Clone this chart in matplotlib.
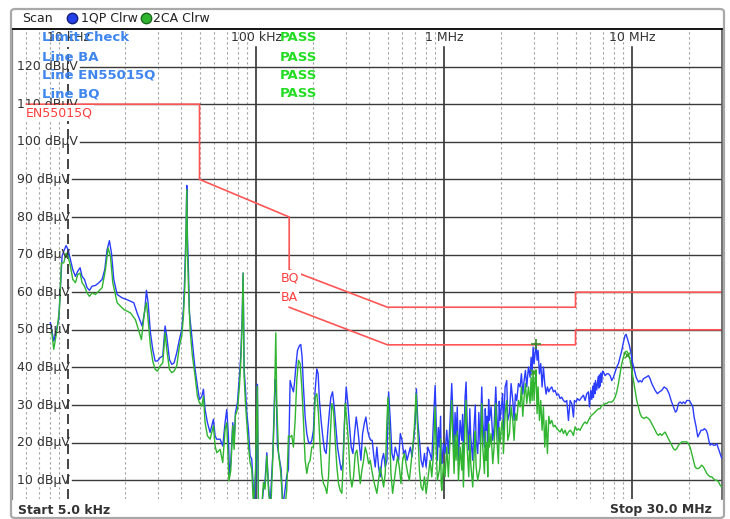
import numpy as np
import matplotlib
matplotlib.use("Agg")
import matplotlib.pyplot as plt
import matplotlib.transforms as mtransforms
from matplotlib.patches import FancyBboxPatch
from matplotlib.lines import Line2D
from matplotlib.ticker import NullLocator

# ---- trace 1 (QP, blue): frequency in kHz, level in dBuV ----
blue_freq = [
    8.05, 8.39, 8.92, 9.29, 9.48, 9.76, 10.0, 10.29, 10.59, 10.94, 11.26, 11.58, 11.87, 12.22,
    12.62, 12.99, 13.42, 13.98, 14.56, 15.17, 15.67, 16.12, 16.59, 17.01, 17.5, 18.23, 19.38,
    20.6, 22.36, 23.28, 24.76, 25.57, 26.1, 26.64, 27.41,
    28.2, 29.03, 29.87, 30.86, 31.88, 32.81, 33.48, 34.59, 35.6, 36.63, 37.84, 39.09, 40.22,
    41.06, 41.56, 42.07, 42.43, 42.78, 43.13, 43.66, 44.2, 44.93, 46.03, 47.37, 48.74, 49.95,
    51.4, 52.47, 53.55, 55.1, 56.93, 59.3, 60.52, 61.77, 64.37, 66.47, 68.4, 69.82, 71.25,
    72.13, 73.32, 75.15, 76.38, 77.65, 79.57, 81.54, 82.87, 84.25, 85.3, 86.35, 87.77, 89.2,
    91.05, 92.91, 94.84, 96.8, 97.97, 100.8, 101.6, 102.9, 107.2, 109.4, 111.6, 114.0, 116.3,
    118.7, 122.6, 126.2, 127.8, 129.9, 133.1, 135.9, 138.7, 142.7, 145.6, 148.6,
    151.7, 154.8, 158.0, 159.9, 163.3, 166.0, 170.1, 172.9, 175.7, 178.6, 182.3, 186.1, 189.9,
    193.8, 197.8, 201.9, 206.1, 210.4, 213.8, 217.2, 221.7, 226.4, 231.1, 235.9, 240.8, 245.8,
    249.9, 255.0, 260.3, 265.7, 271.1, 277.9, 283.6, 289.4, 295.4, 301.5, 307.7, 314.1, 320.6,
    327.3, 334.1, 340.9, 348.0, 355.2, 361.1, 368.5, 376.1, 383.8, 391.7, 399.7, 407.9, 414.6,
    421.4, 430.1, 439.0, 448.1, 457.4, 466.9, 476.6, 486.4, 496.5, 506.8, 517.3, 528.0, 538.9,
    550.1, 561.5, 573.1, 585.0, 597.1, 609.5, 622.1, 635.0, 648.2, 661.6, 675.3, 689.3, 703.6,
    712.3, 724.1, 739.1, 754.5, 770.1, 786.1, 802.4, 819.1,
    842, 860, 878, 896, 907, 921, 944, 972, 992, 1012, 1033, 1054, 1076, 1098, 1112, 1130,
    1158, 1192, 1217, 1241, 1267, 1293, 1309, 1325, 1353, 1386, 1420, 1450, 1480, 1510, 1554,
    1586, 1606, 1639, 1673, 1707, 1742, 1778, 1815, 1845, 1883, 1906, 1945, 1985, 2026, 2068,
    2111, 2154, 2181, 2226, 2272, 2319, 2357, 2396, 2435, 2485, 2536, 2578, 2621, 2664, 2708,
    2752, 2809, 2867, 2902, 2938, 2975, 3011, 3048, 3085, 3123, 3162, 3214, 3267, 3321, 3375,
    3431, 3488, 3545, 3604, 3663, 3738, 3815, 3894, 3974, 4056, 4140, 4225, 4312, 4402, 4492,
    4585,
    4680, 4776, 4875, 4935, 5037, 5119, 5246, 5399, 5510, 5624, 5740, 5858, 5931, 6029, 6102,
    6178, 6228, 6280, 6357, 6382, 6487, 6594, 6650, 6703, 6758, 6814, 6897, 6960, 7040, 7186,
    7333, 7485, 7640, 7796, 7957, 8122, 8288, 8460, 8635, 8812, 8993, 9177, 9293, 9446, 9679,
    9880, 10083, 10290, 10501, 10808, 11030, 11258, 11491, 11871, 12216, 12466, 12724, 12988,
    13254, 13637, 13978, 14382, 14800, 15291, 15734, 16123, 16589, 17003, 17283, 17637, 18002,
    18376, 18752, 19140, 19537, 20182, 20599, 21026, 21372, 21901, 22354, 22813, 23286, 23762,
    24254, 24762, 25170, 25586, 25998, 26531, 27080, 27641, 28213, 28790, 29387, 29989,
]
blue_level = [
    51.9, 47.0, 52.7, 69.6, 70.9, 72.4, 71.3, 68.7, 66.0, 64.2, 65.6, 66.5, 64.2, 63.4,
    61.2, 60.5, 61.6, 61.8, 62.5, 63.4, 66.0, 71.3, 73.7, 70.4, 63.4, 59.4, 58.5,
    58.0, 57.2, 54.5, 51.0, 55.0, 60.5, 57.2, 49.2,
    44.8, 41.7, 41.7, 42.6, 43.0, 51.0, 48.3, 42.1, 40.8, 41.2, 43.9, 47.4, 50.0,
    55.4, 61.6, 70.4, 76.6, 88.4, 74.9, 66.0, 54.5, 51.0, 45.7, 39.5, 35.0, 31.5,
    32.3, 34.2, 28.8, 25.3, 22.7, 26.2, 21.8, 20.9, 20.9, 19.1, 25.3, 28.8, 21.8,
    11.2, 14.7, 25.3, 20.0, 28.0, 30.6, 37.7, 43.0, 52.7, 65.1, 39.5, 34.2, 28.0,
    23.5, 16.5, 15.6, 7.1, 3.0, 17.3, 35.5, 3.0, 3.0, 7.6, 9.8, 17.3, 8.8,
    3.0, 16.5, 36.8, 34.2, 19.1, 15.6, 12.9, 3.0, 7.6, 11.2, 12.9,
    36.5, 34.8, 33.5, 35.7, 41.0, 44.5, 45.8, 46.1, 42.7, 34.8, 26.8, 22.4, 20.2,
    19.7, 20.6, 23.3, 33.9, 39.6, 38.3, 31.2, 25.9, 21.5, 18.0, 17.1, 23.3, 28.6,
    32.1, 33.5, 29.5, 24.2, 18.8, 15.3, 12.7, 14.4, 25.9, 34.8, 30.4, 24.2, 18.8,
    17.1, 22.4, 26.8, 23.3, 18.8, 15.3, 22.4, 25.0, 26.8, 23.3, 21.5, 20.6, 20.6,
    17.1, 13.5, 18.8, 13.5, 10.9, 15.3, 17.1, 13.5, 15.3, 33.5, 25.9, 17.1, 15.3,
    18.8, 17.1, 15.3, 22.4, 20.6, 17.1, 18.0, 15.3, 17.1, 18.8, 16.2, 20.6, 25.9,
    34.3, 25.9, 20.6, 15.3, 13.5, 17.1, 13.5, 18.8,
    17.1, 15.3, 25.9, 35.2, 25.9, 15.3, 18.8, 14.4, 19.7, 17.1, 23.3, 17.1, 25.9, 35.7, 28.6, 17.1,
    21.5, 15.3, 25.9, 20.6, 17.1, 32.1, 36.1, 25.9, 18.0, 21.5, 15.3, 25.9, 20.6, 17.1, 19.7,
    34.8, 25.9, 18.8, 23.3, 18.0, 25.9, 29.5, 20.6, 24.2, 34.8, 27.7, 20.6, 25.9, 30.4, 23.3,
    34.8, 36.5, 25.9, 27.7, 35.7, 31.2, 25.9, 32.9, 31.2, 35.7, 34.8, 38.3, 32.9, 36.5, 39.2,
    34.8, 40.1, 37.4, 42.7, 38.3, 45.4, 41.0, 43.6, 46.3, 41.9, 44.5, 38.3, 41.0, 34.8, 40.1,
    35.7, 32.9, 34.8, 33.5, 34.3, 34.8, 33.5, 33.9, 32.6, 32.9, 31.7, 32.1, 31.2, 30.8, 31.2,
    25.9,
    31.2, 30.4, 26.8, 31.2, 30.8, 31.7, 31.2, 32.1, 32.6, 31.2, 33.0, 33.5, 29.5, 33.9, 31.5,
    35.0, 32.0, 35.8, 33.0, 36.5, 34.0, 37.5, 34.5, 38.0, 35.0, 38.5, 36.0, 39.0, 38.8, 37.8,
    38.3, 38.3, 37.8, 36.5, 37.4, 38.8, 40.1, 41.0, 42.7, 44.5, 46.7, 48.5, 48.8, 47.6, 45.8,
    43.6, 41.0, 39.2, 37.4, 36.1, 36.5, 36.1, 37.0, 37.4, 37.8, 37.0, 35.7, 34.8,
    33.9, 33.0, 33.5, 33.9, 34.8, 34.3, 33.0, 31.2, 29.5, 28.1, 28.5, 30.4, 30.8,
    30.4, 30.8, 30.4, 31.2, 31.2, 30.4, 29.5, 26.8, 24.2, 21.5, 22.4, 23.3, 23.3,
    23.7, 23.3, 22.4, 20.6, 19.3, 19.7, 19.3, 19.3, 19.7, 18.4, 17.1, 15.8,
]
# small harmonics in the dense 1-2 MHz band
blue_extra_freq = [932, 958, 965, 1144, 1175, 1254, 1370, 1435, 1465, 1530, 1656, 1690, 1725,
                   1965, 2047]
blue_extra_level = [24.0, 27.0, 16.0, 28.0, 29.5, 27.5, 29.0, 22.0, 30.0, 28.0, 29.0, 27.0,
                    31.5, 31.0, 33.0]

# ---- trace 2 (CA, green) ----
green_freq = [
    8.15, 8.39, 8.74, 8.99, 9.21, 9.48, 9.76, 10.0, 10.29, 10.59, 10.94, 11.26, 11.58, 11.87,
    12.22, 12.62, 12.99, 13.42, 13.98, 14.56, 15.17, 15.8, 16.32, 16.8, 17.29, 18.23, 19.78,
    21.46, 22.81, 24.55, 25.57, 26.1, 26.64, 27.41,
    28.2, 29.03, 29.87, 30.86, 31.88, 32.81, 33.48, 34.59, 35.6, 36.63, 37.84, 39.09, 40.22,
    41.06, 41.7, 42.25, 42.78, 43.13, 43.84, 44.56, 45.84, 47.37, 48.74, 49.95, 51.4, 52.47,
    53.55, 55.1, 56.93, 59.3, 60.52, 61.77, 64.37, 66.47, 68.4, 69.82, 71.7, 73.32, 75.15,
    76.38, 77.65, 79.57, 81.54, 82.87, 84.25, 85.3, 86.35, 87.77, 89.2, 91.05, 92.91, 94.84,
    96.8, 99.3, 101.6, 102.9, 107.2, 109.4, 111.6, 114.0, 116.8, 119.9, 122.6, 124.7, 127.3,
    128.8, 131.5, 135.3, 138.7, 142.7, 145.6, 148.6,
    151.7, 154.8, 158.0, 161.3, 164.6, 168.0, 171.5, 175.0, 178.6, 182.3, 186.1, 189.9, 193.8,
    197.8, 201.9, 206.1, 210.4, 214.7, 219.2, 223.7, 228.3, 233.0, 237.9, 242.8, 247.8, 252.9,
    258.2, 263.5, 268.9, 274.5, 280.1, 285.9, 291.8, 297.8, 304.0, 310.3, 316.7, 323.3, 330.0,
    336.8, 343.8, 350.9, 358.1, 365.5, 373.0, 380.7, 388.5, 396.5, 404.6, 412.9, 421.4, 430.1,
    439.0, 448.1, 457.4, 466.9, 476.6, 486.4, 496.5, 502.7, 510.9, 521.5, 532.3, 543.3, 554.6,
    566.1, 577.8, 589.8, 602.0, 614.5, 627.2, 640.2, 653.5, 667.0, 680.8, 694.9, 709.4, 724.1,
    739.1, 754.5, 770.1, 786.1, 802.4, 819.1,
    842, 860, 878, 896, 907, 921, 944, 972, 992, 1012, 1033, 1054, 1076, 1098, 1112, 1130,
    1158, 1192, 1217, 1241, 1267, 1293, 1309, 1325, 1353, 1386, 1420, 1450, 1480, 1510, 1554,
    1586, 1606, 1639, 1673, 1707, 1742, 1778, 1815, 1845, 1883, 1906, 1945, 1985, 2026, 2068,
    2111, 2154, 2181, 2226, 2272, 2319, 2357, 2396, 2435, 2485, 2536, 2578, 2621, 2664, 2708,
    2752, 2809, 2867, 2902, 2938, 2975, 3011, 3048, 3085, 3123, 3162, 3214, 3267, 3321, 3375,
    3431, 3488, 3545, 3604, 3663, 3738, 3815, 3894, 3974, 4056, 4140, 4225, 4312, 4402, 4492,
    4585,
    4680, 4776, 4875, 4975, 5078, 5183, 5290, 5399, 5510, 5624, 5740, 5858, 5979, 6102, 6228,
    6357, 6487, 6621, 6758, 6897, 7040, 7186, 7333, 7485, 7640, 7796, 7957, 8122, 8288, 8460,
    8635, 8812, 8993, 9177, 9367, 9562, 9758, 9960, 10166, 10374, 10589, 10808, 11030, 11258,
    11585, 11871, 12216, 12466, 12724, 12988, 13254, 13528, 13806, 14091, 14382, 14678, 14982,
    15291, 15605, 15927, 16256, 16589, 16933, 17283, 17637, 18002, 18376, 18752, 19140, 19537,
    19937, 20350, 20767, 21196, 21635, 22078, 22535, 23001, 23472, 23958, 24454, 24955, 25471,
    25998, 26531, 27080, 27641, 28213, 28790, 29387, 29989,
]
green_level = [
    50.0, 44.8, 50.1, 55.4, 67.8, 67.8, 70.4, 69.6, 66.9, 63.4, 62.5, 64.7, 65.1, 62.5,
    61.6, 59.8, 58.9, 59.8, 59.4, 60.3, 61.2, 66.0, 71.8, 69.6, 62.5, 57.2, 55.4,
    54.5, 52.7, 47.4, 55.4, 57.2, 52.7, 45.7,
    41.7, 39.5, 39.0, 40.4, 41.2, 49.2, 44.8, 39.5, 38.6, 39.0, 40.4, 45.7, 48.3,
    53.6, 60.7, 71.3, 87.3, 71.3, 58.9, 50.0, 43.0, 37.7, 32.3, 30.6, 29.7, 32.3,
    25.3, 21.8, 20.9, 24.5, 19.1, 17.3, 18.2, 14.7, 23.5, 25.3, 9.8, 12.5, 24.5,
    18.2, 27.2, 28.8, 35.0, 41.2, 51.0, 65.1, 37.7, 30.6, 25.3, 19.1, 14.7, 12.9,
    3.0, 12.9, 35.0, 3.0, 3.0, 9.4, 7.6, 16.5, 6.2, 3.0, 15.6, 26.2, 49.2,
    30.6, 17.3, 12.0, 3.0, 3.0, 7.6, 21.8,
    21.5, 21.9, 18.8, 25.9, 36.5, 41.9, 41.0, 34.8, 25.9, 15.3, 11.8, 14.4, 15.3,
    18.8, 18.8, 32.1, 33.0, 27.7, 18.8, 11.8, 9.1, 8.2, 6.5, 10.9, 21.5, 30.4,
    28.6, 20.6, 13.5, 9.1, 7.3, 6.5, 17.1, 30.4, 25.9, 19.7, 10.9, 8.2, 10.9,
    17.1, 18.0, 13.5, 9.1, 12.7, 15.3, 18.8, 17.1, 14.4, 15.3, 12.7, 10.0, 8.2,
    6.5, 10.0, 13.5, 10.9, 8.2, 11.8, 25.9, 32.1, 25.9, 11.8, 6.5, 10.0, 13.5,
    16.2, 13.5, 9.1, 15.3, 17.1, 14.4, 11.8, 10.0, 14.4, 18.8, 24.2, 33.0, 23.3,
    12.7, 8.2, 7.3, 10.9, 6.5, 10.0,
    15.3, 10.9, 17.1, 29.5, 18.8, 10.0, 12.7, 7.3, 14.4, 10.9, 18.8, 10.9, 21.5, 31.2, 21.5, 11.8,
    15.3, 10.0, 18.8, 12.7, 8.2, 25.9, 31.2, 18.8, 10.9, 14.4, 8.2, 18.8, 13.5, 10.0, 13.5,
    30.4, 18.8, 11.8, 15.3, 10.9, 18.8, 22.4, 14.4, 18.8, 30.4, 21.5, 14.4, 19.7, 25.0, 17.1,
    27.7, 31.2, 20.6, 22.4, 29.5, 25.9, 20.6, 27.7, 25.9, 31.2, 29.5, 34.8, 27.0, 32.1, 35.7,
    30.4, 34.8, 30.4, 37.4, 31.2, 39.2, 31.2, 36.5, 39.2, 27.7, 34.8, 25.9, 31.2, 23.3, 29.5,
    18.8, 25.9, 17.1, 27.0, 25.0, 25.9, 24.2, 24.6, 23.7, 23.3, 22.8, 23.7, 22.4, 23.3, 21.9,
    22.8,
    23.3, 22.8, 21.9, 24.2, 23.3, 23.7, 23.3, 24.2, 25.0, 25.5, 25.0, 25.9, 26.8, 27.3, 27.7,
    28.1, 28.6, 29.0, 29.0, 29.9, 29.9, 30.4, 30.4, 30.8, 30.8, 30.8, 31.2, 32.1, 33.5, 35.7,
    38.3, 41.0, 42.7, 44.1, 44.3, 43.6, 41.9, 39.2, 36.5, 33.9, 31.2, 29.5, 27.7, 26.8,
    26.4, 26.8, 26.4, 25.9, 25.0, 24.2, 23.3, 22.4, 21.9, 22.4, 21.9, 22.4, 22.8,
    21.9, 21.0, 20.2, 19.3, 18.4, 18.0, 18.4, 19.3, 19.7, 20.2, 20.2, 20.2, 20.2,
    19.7, 18.8, 17.1, 15.3, 13.5, 13.1, 13.1, 13.5, 14.0, 13.5, 12.7, 11.8, 11.3,
    10.9, 10.9, 10.4, 10.0, 10.0, 9.6, 8.7, 8.2,
]
green_extra_freq = [958, 965, 1144, 1175, 1254, 1370, 1465, 1656, 1690, 1725, 1965, 2047]
green_extra_level = [21.0, 9.0, 22.0, 23.0, 20.0, 22.0, 23.0, 23.0, 20.0, 25.0, 24.0, 26.0]

# ---- EN55015 limit lines ----
qp_limit_freq = [6, 50, 50, 150, 150, 500, 5000, 5000, 30000]
qp_limit_level = [110, 110, 90, 80, 66, 56, 56, 60, 60]
av_limit_freq = [150, 500, 5000, 5000, 30000]
av_limit_level = [56, 46, 46, 50, 50]

# markers
qp_marker = (3085, 46.3)
ca_markers_freq = [2960, 9370]
ca_markers_level = [38.8, 43.3]

level_ticks = [10, 20, 30, 40, 50, 60, 70, 80, 90, 100, 110, 120]
freq_labels = {10: "10 kHz", 100: "100 kHz", 1000: "1 MHz", 10000: "10 MHz"}
minor_freqs = [6, 7, 8, 9] + [k * 10 for k in range(2, 10)] + [k * 100 for k in range(2, 10)] \
    + [k * 1000 for k in range(2, 10)] + [20000]
limit_rows = ["Limit Check", "Line BA", "Line EN55015Q", "Line BQ"]


def merged(freq, level, extra_f, extra_l):
    f = np.array(freq + extra_f, dtype=float)
    l = np.array(level + extra_l, dtype=float)
    order = np.argsort(f, kind="stable")
    return f[order], l[order]


W, H = 730, 519
fig = plt.figure(figsize=(W / 100, H / 100), dpi=100)
fig.patch.set_facecolor("white")

ax = fig.add_axes([11.5 / W, 1 - 499 / H, 710.3 / W, 470 / H])
ax.set_xscale("log")
ax.set_xlim(5, 30000)
ax.set_ylim(5, 130)
ax.xaxis.set_major_locator(NullLocator())
ax.xaxis.set_minor_locator(NullLocator())
ax.yaxis.set_major_locator(NullLocator())
ax.spines["top"].set_color("black")
ax.spines["top"].set_linewidth(1.3)
ax.spines["left"].set_color("#8a8a8a")
ax.spines["left"].set_linewidth(1.6)
ax.spines["right"].set_color("#555555")
ax.spines["right"].set_linewidth(1.2)
ax.spines["bottom"].set_visible(False)

xdata_yaxes = mtransforms.blended_transform_factory(ax.transData, ax.transAxes)
xaxes_ydata = mtransforms.blended_transform_factory(ax.transAxes, ax.transData)

# vertical grid
for f in minor_freqs:
    ax.axvline(f, color="#a0a0a0", lw=0.8, ls=(0, (2, 2.5)), zorder=1)
ax.axvline(10, ymax=0.962, color="#222222", lw=1.2, ls=(0, (6, 3)), zorder=1)
for f in [100, 1000, 10000]:
    ax.axvline(f, ymax=0.962, color="#222222", lw=1.1, zorder=1)

# horizontal grid + labels
for lvl in level_ticks:
    start = 11.6 if lvl >= 100 else 10.5
    ax.plot([start, 30000], [lvl, lvl], color="#3a3a3a", lw=1.0, zorder=1)
    ax.text(0.0077, lvl, f"{lvl} dBµV", transform=xaxes_ydata, ha="left", va="center",
            fontsize=9, color="#333333", zorder=5)

for f, lab in freq_labels.items():
    ax.text(f, 0.981, lab, transform=xdata_yaxes, ha="center", va="center",
            fontsize=9, color="#333333", zorder=5)

# limit lines
red = "#ff5555"
ax.plot(qp_limit_freq, qp_limit_level, color=red, lw=1.2, zorder=2)
ax.plot(av_limit_freq, av_limit_level, color=red, lw=1.2, zorder=2)

# traces
bf, bl = merged(blue_freq, blue_level, blue_extra_freq, blue_extra_level)
gf, gl = merged(green_freq, green_level, green_extra_freq, green_extra_level)
ax.plot(bf, bl, color="#2a3cff", lw=1.0, zorder=3)
ax.plot(gf, gl, color="#2fb52f", lw=1.0, zorder=3)
ax.plot([qp_marker[0]], [qp_marker[1]], marker="+", color="#3a8a2a", ms=7, mew=1.2, zorder=4)
ax.plot(ca_markers_freq, ca_markers_level, ls="none", marker="x", color="#3aa02a", ms=5,
        mew=1.0, zorder=4)

# limit labels
ax.text(0.0204, 0.821, "EN55015Q", transform=ax.transAxes, ha="left", va="center", fontsize=9,
        color="#ff3c3c", zorder=6,
        bbox=dict(facecolor="white", edgecolor="none", pad=1.0))
ax.text(0.3794, 0.470, "BQ", transform=ax.transAxes, ha="left", va="center", fontsize=9,
        color="#ff3c3c", zorder=6,
        bbox=dict(facecolor="white", edgecolor="none", pad=1.0))
ax.text(0.3794, 0.4277, "BA", transform=ax.transAxes, ha="left", va="center", fontsize=9,
        color="#ff3c3c", zorder=6,
        bbox=dict(facecolor="white", edgecolor="none", pad=1.0))

# limit check table
row_y = [0.981, 0.940, 0.902, 0.862]
for name, yy in zip(limit_rows, row_y):
    ax.text(0.043, yy, name, transform=ax.transAxes, ha="left", va="center", fontsize=9.5,
            fontweight="bold", color="#3f86ee", zorder=7)
    ax.text(0.378, yy, "PASS", transform=ax.transAxes, ha="left", va="center",
            fontsize=9.5, fontweight="bold", color="#22dd22", zorder=7)

# header
hy = 1 - 18 / H
fig.text(22 / W, hy, "Scan", ha="left", va="center", fontsize=9, color="#222222")
fig.add_artist(Line2D([72 / W], [hy], marker="o", ms=7.5, mfc="#2440e8", mec="#14207a",
                      transform=fig.transFigure))
fig.text(81 / W, hy, "1QP Clrw", ha="left", va="center", fontsize=9, color="#222222")
fig.add_artist(Line2D([146 / W], [hy], marker="o", ms=7.5, mfc="#2fb52f", mec="#1a6a1a",
                      transform=fig.transFigure))
fig.text(153 / W, hy, "2CA Clrw", ha="left", va="center", fontsize=9, color="#222222")

# footer
fy = 1 - 510 / H
fig.text(18 / W, fy, "Start 5.0 kHz", ha="left", va="center", fontsize=9, fontweight="bold",
         color="#333333")
fig.text(712 / W, fy, "Stop 30.0 MHz", ha="right", va="center", fontsize=9, fontweight="bold",
         color="#333333")

# outer frame
frame = FancyBboxPatch((11 / W, 1 - 518 / H), 713 / W, 509 / H,
                       boxstyle="round,pad=0,rounding_size=0.006", transform=fig.transFigure,
                       fill=False, edgecolor="#a8a8a8", lw=1.6)
fig.add_artist(frame)

fig.savefig("out.png", dpi=100, facecolor="white")
